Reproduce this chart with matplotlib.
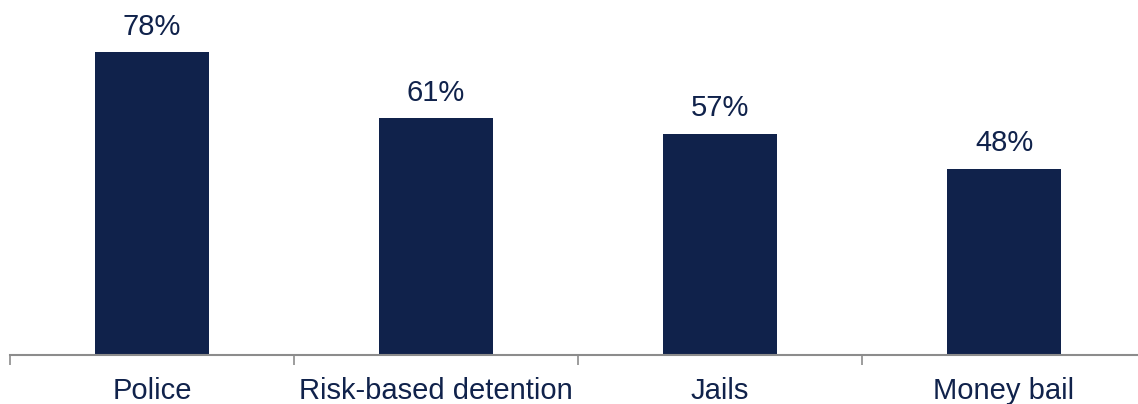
import numpy as np
import matplotlib.pyplot as plt

categories = ["Police", "Risk-based detention", "Jails", "Money bail"]
values = [78, 61, 57, 48]

NAVY = "#10224b"

plt.rcParams['font.family'] = ['Liberation Sans', 'DejaVu Sans']

fig = plt.figure(figsize=(11.38, 4.04), dpi=100)
ax = fig.add_axes([10 / 1138, 49 / 404, 1136 / 1138, 355 / 404])

x = np.arange(len(categories))
ax.bar(x, values, width=0.4, color=NAVY, zorder=2)

for xi, v in zip(x, values):
    ax.text(xi, v + 2.9, f"{v}%", ha='center', va='bottom',
            fontsize=21, color=NAVY)

ax.set_xlim(-0.5, 3.5)
ax.set_ylim(0, 91.4)

ax.set_xticks(x)
ax.set_xticklabels(categories, fontsize=21, color=NAVY)
ax.tick_params(axis='x', which='major', length=0, pad=16)
ax.set_xticks(np.arange(-0.5, 4.0, 1.0), minor=True)
ax.tick_params(axis='x', which='minor', length=7, width=1.2, color='#8c8c8c')

ax.set_yticks([])
for side in ['top', 'right', 'left']:
    ax.spines[side].set_visible(False)
ax.spines['bottom'].set_color('#8c8c8c')
ax.spines['bottom'].set_linewidth(1.5)

fig.savefig("out.png", dpi=100)
